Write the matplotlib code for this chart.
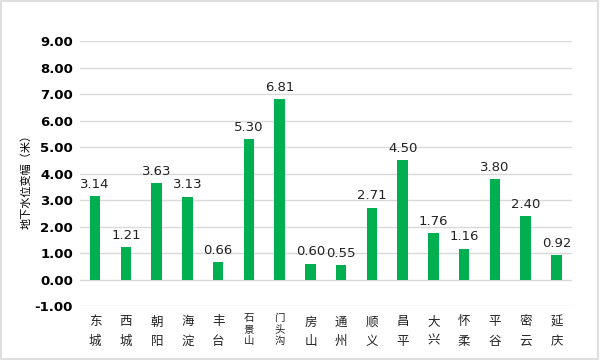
import matplotlib
matplotlib.use("Agg")
import matplotlib.pyplot as plt
from matplotlib.patches import Rectangle

plt.rcParams['font.family'] = ['DejaVu Sans', 'Noto Sans CJK SC']

# 各区地下水位变幅
districts = ['东城', '西城', '朝阳', '海淀', '丰台', '石景山', '门头沟', '房山',
             '通州', '顺义', '昌平', '大兴', '怀柔', '平谷', '密云', '延庆']
values = [3.14, 1.21, 3.63, 3.13, 0.66, 5.30, 6.81, 0.60,
          0.55, 2.71, 4.50, 1.76, 1.16, 3.80, 2.40, 0.92]
yticks = [-1, 0, 1, 2, 3, 4, 5, 6, 7, 8, 9]

green = '#00b050'
cjk = ['Noto Sans CJK SC', 'DejaVu Sans']

fig = plt.figure(figsize=(6, 3.6), dpi=100)
ax = fig.add_axes([0.133, 0.15, 0.82, 0.736])

x = range(len(districts))
bars = ax.bar(x, values, width=0.34, color=green, zorder=3)

for xi, v in zip(x, values):
    ax.text(xi, v + 0.2, f'{v:.2f}', ha='center', va='bottom', fontsize=9.5,
            color='#222222')

ax.set_xlim(-0.5, len(districts) - 0.5)
ax.set_ylim(-1, 9)
ax.set_yticks(yticks)
ax.set_yticklabels([f'{t:.2f}' for t in yticks], fontsize=9.5, fontweight='bold')
ax.grid(axis='y', color='#d9d9d9', lw=1, zorder=0)
ax.set_xticks(list(x))
ax.set_xticklabels([])

# 竖排的区名，一个字一个字往下写（单位: 点，相对坐标轴底边）
for xi, d in zip(x, districts):
    if len(d) == 2:
        offs, fs = [11.5, 25.5], 9
    else:
        offs, fs = [8.5, 17, 25.5], 7.5
    for ch, o in zip(d, offs):
        ax.annotate(ch, (xi, 0), xycoords=('data', 'axes fraction'),
                    xytext=(0, -o), textcoords='offset points',
                    ha='center', va='center', fontsize=fs, family=cjk,
                    color='#222222')

ax.tick_params(axis='both', length=0)
ax.tick_params(axis='y', pad=5)
for s in ax.spines.values():
    s.set_visible(False)

ax.set_ylabel('地下水位变幅（米）', family=cjk, fontsize=8)
ax.yaxis.set_label_coords(-0.098, 0.48)

fig.patches.append(Rectangle((0.002, 0.003), 0.995, 0.994, transform=fig.transFigure,
                             fill=False, edgecolor='#d9d9d9', lw=1.2))

fig.savefig('out.png', dpi=100)
